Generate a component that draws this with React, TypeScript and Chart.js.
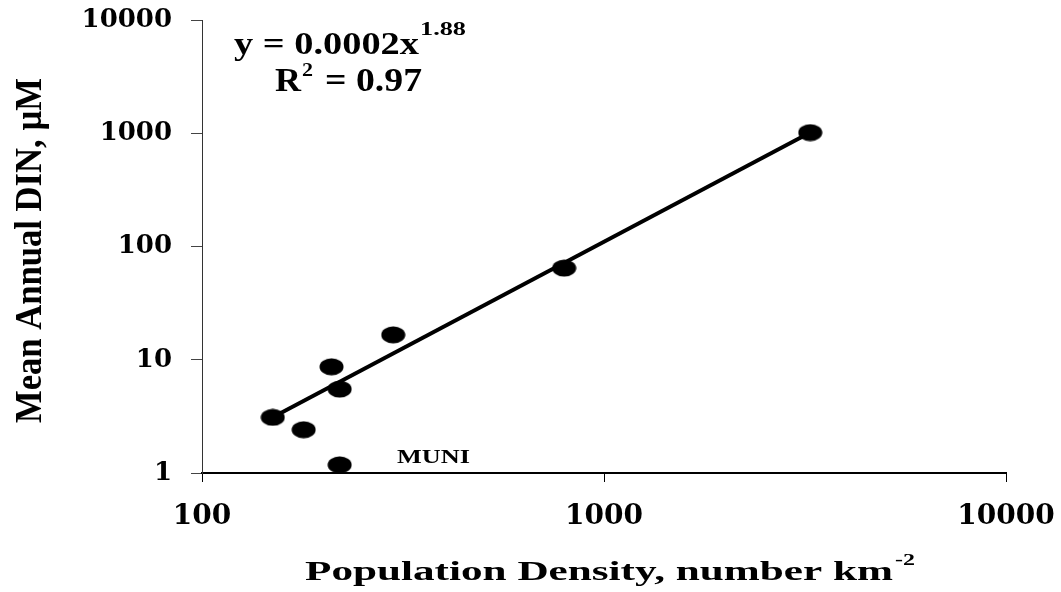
import React, { useEffect, useRef } from 'react';
import { Chart, registerables } from 'chart.js';
Chart.register(...registerables);

// Population density (number km^-2) and mean annual DIN (µM)
const densities = [150, 179, 210, 220, 220, 299, 796, 3258];
const dinValues = [3.1, 2.41, 8.67, 5.51, 1.18, 16.6, 64.5, 1014];
// Power-law fit y = 0.0002 x^1.88 end points
const trendX = [150, 3258];
const trendY = [3.1, 1014];
const xTicks = [100, 1000, 10000];
const yTicks = [1, 10, 100, 1000, 10000];
const xTickLabels = ['100', '1000', '10000'];
const yTickLabels = ['1', '10', '100', '1000', '10000'];
const xTitle = 'Population Density, number km';
const xTitleSup = '-2';
const yTitle = 'Mean Annual DIN, µM';
const eqMain = 'y = 0.0002x';
const eqSup = '1.88';
const r2Main = '= 0.97';
const labelMuni = 'MUNI';

const SERIF = '"Liberation Serif", "Times New Roman", serif';

function drawFit(ctx: CanvasRenderingContext2D, text: string, x: number, y: number, size: number, width: number) {
  ctx.save();
  ctx.font = `bold ${size}px ${SERIF}`;
  ctx.fillStyle = '#000';
  ctx.textAlign = 'left';
  ctx.textBaseline = 'alphabetic';
  const w = ctx.measureText(text).width;
  ctx.translate(x, y);
  ctx.scale(width / w, 1);
  ctx.fillText(text, 0, 0);
  ctx.restore();
}

const textPlugin = {
  id: 'texts',
  afterDraw(chart: any) {
    const ctx: CanvasRenderingContext2D = chart.ctx;
    drawFit(ctx, eqMain, 234, 54, 31, 185);
    drawFit(ctx, eqSup, 420, 35, 19, 46);
    drawFit(ctx, 'R', 275, 91, 33, 26);
    drawFit(ctx, '2', 302, 76, 19, 11);
    drawFit(ctx, r2Main, 325, 91, 33, 97);
    drawFit(ctx, labelMuni, 397, 463, 18, 73);
    drawFit(ctx, xTitle, 305, 580, 28, 588);
    drawFit(ctx, xTitleSup, 895, 565, 17, 20);
    ctx.save();
    ctx.translate(40.5, 423);
    ctx.rotate(-Math.PI / 2);
    drawFit(ctx, yTitle, 0, 0, 37, 345);
    ctx.restore();
  },
};

function ellipseMarker(): HTMLCanvasElement {
  const c = document.createElement('canvas');
  c.width = 25;
  c.height = 18;
  const g = c.getContext('2d')!;
  g.fillStyle = '#000';
  g.beginPath();
  g.ellipse(12.5, 9, 12, 8.6, 0, 0, Math.PI * 2);
  g.fill();
  return c;
}

export default function App() {
  const ref = useRef<HTMLCanvasElement>(null);
  useEffect(() => {
    if (!ref.current) return;
    const marker = ellipseMarker();
    const chart = new Chart(ref.current, {
      type: 'scatter',
      data: {
        datasets: [
          {
            type: 'line',
            data: trendX.map((x, i) => ({ x, y: trendY[i] })),
            borderColor: '#000',
            borderWidth: 4,
            pointRadius: 0,
            fill: false,
            order: 2,
          } as any,
          {
            data: densities.map((x, i) => ({ x, y: dinValues[i] })),
            pointStyle: marker as any,
            backgroundColor: '#000',
            borderColor: '#000',
            order: 1,
          },
        ],
      },
      plugins: [textPlugin],
      options: {
        animation: false,
        responsive: false,
        events: [],
        layout: { padding: { top: 20, right: 55, left: 0, bottom: 0 } },
        plugins: { legend: { display: false }, tooltip: { enabled: false } },
        scales: {
          x: {
            type: 'logarithmic',
            min: 100,
            max: 10000,
            afterBuildTicks: (s: any) => { s.ticks = xTicks.map((v) => ({ value: v })); },
            afterFit: (s: any) => {
              s.height = 119;
              s.paddingLeft = 0; s.paddingRight = 0; s.paddingTop = 0; s.paddingBottom = 0;
            },
            grid: { drawOnChartArea: false, drawTicks: true, tickLength: 9, color: '#000', tickWidth: 1 },
            border: { display: true, color: '#000', width: 2 },
            ticks: {
              color: '#000',
              padding: 18,
              maxRotation: 0,
              autoSkip: false,
              font: { family: '"DejaVu Serif"', weight: 'bold', size: 28 },
              callback: (v: any) => xTickLabels[xTicks.indexOf(Number(v))] ?? '',
            },
          },
          y: {
            type: 'logarithmic',
            min: 1,
            max: 10000,
            afterBuildTicks: (s: any) => { s.ticks = yTicks.map((v) => ({ value: v })); },
            afterFit: (s: any) => {
              s.width = 202;
              s.paddingLeft = 0; s.paddingRight = 0; s.paddingTop = 0; s.paddingBottom = 0;
            },
            grid: { drawOnChartArea: false, drawTicks: true, tickLength: 11, color: '#444', tickWidth: 1 },
            border: { display: true, color: '#333', width: 1 },
            ticks: {
              color: '#000',
              padding: 19,
              autoSkip: false,
              font: { family: '"DejaVu Serif"', weight: 'bold', size: 26 },
              callback: (v: any) => yTickLabels[yTicks.indexOf(Number(v))] ?? '',
            },
          },
        },
      },
    });
    return () => chart.destroy();
  }, []);
  return (
    <div style={{ position: 'absolute', left: 0, top: 0, width: 1061, height: 592, background: '#fff' }}>
      <canvas ref={ref} width={1061} height={592} style={{ display: 'block' }} />
    </div>
  );
}
